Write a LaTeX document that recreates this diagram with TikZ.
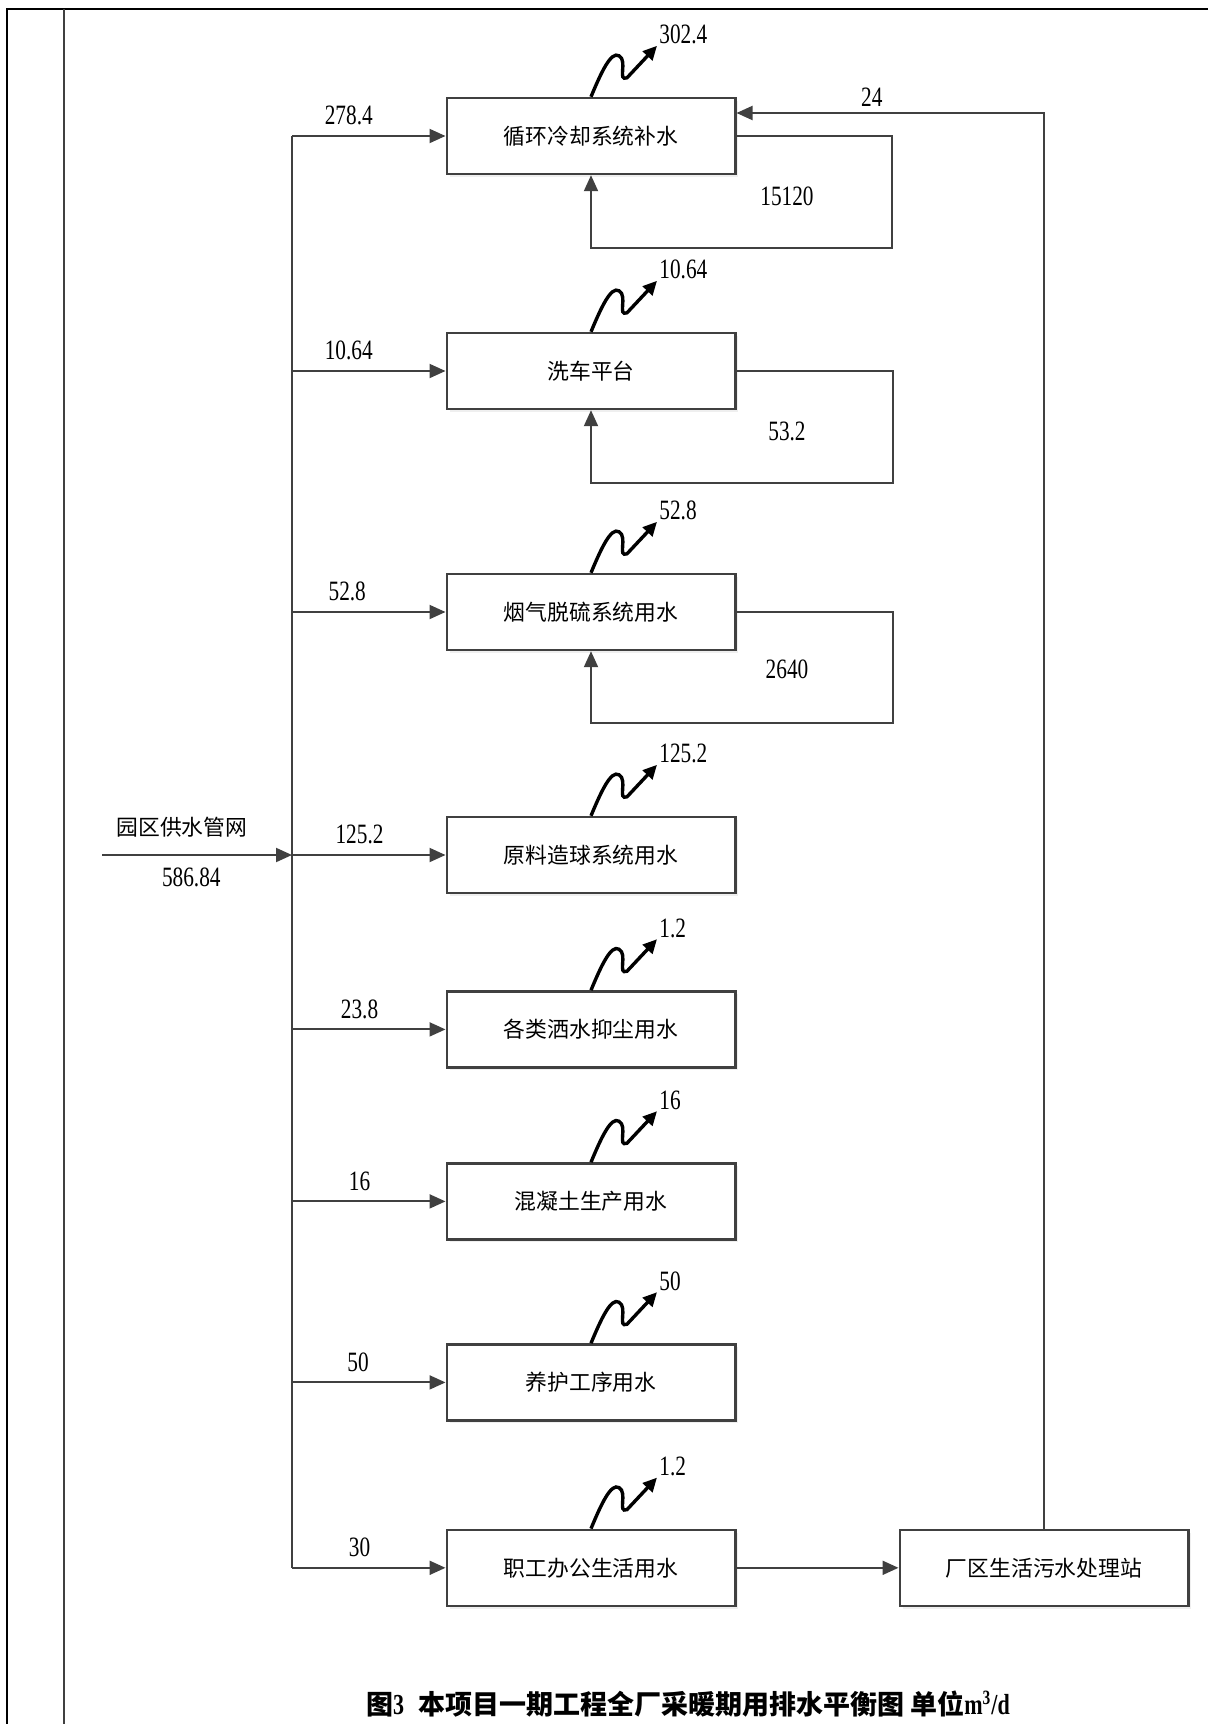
\documentclass[tikz,border=0pt]{standalone}
\usepackage{fontspec}
\setmainfont{Liberation Serif}[FakeStretch=0.76]
\newfontfamily\cjk{Noto Sans CJK SC}
\usetikzlibrary{arrows.meta}
\usetikzlibrary{positioning}
\usetikzlibrary{shadows}

\definecolor{pipe}{HTML}{404040}

\begin{document}
\begin{tikzpicture}[x=0.5pt,y=-0.5pt,->,>={Triangle[length=8pt,width=7pt]},
  every edge/.style={draw=pipe,line width=1pt},
  unit node/.style={rectangle,draw=pipe,line width=1.2pt,fill=white,
    minimum width=144.3pt,minimum height=38pt,
    drop shadow={shadow xshift=1.5pt,shadow yshift=-1.5pt,fill=black!12},
    font=\cjk\fontsize{10.9}{13}\selectfont},
  num/.style={font=\fontsize{14}{16}\selectfont,inner sep=1pt},
  flow/.style={draw=pipe,line width=1pt},
  loss/.pic={
    \draw[-{Triangle[length=7pt,width=6.5pt]},line width=1.7pt,black]
      (0,0) .. controls (10,-24) and (20,-46) .. (28,-41)
      .. controls (37,-36) and (26,-15) .. (36,-19) -- (66,-51);
    \node[num,anchor=west] at (66,-62) {#1};
  }]

  \useasboundingbox (0,0) rectangle (1208,1724);

  % page frame
  \draw[-,line width=1.35pt] (1208,9) -- (7,9) -- (7,1724);
  \draw[-,line width=0.6pt,pipe] (64,9) -- (64,1724);

  \node[unit node] (CW) at (591,136) {循环冷却系统补水};
  \node[unit node] (WP) [below = 78.3pt of CW] {洗车平台};
  \node[unit node] (FGD) [below = 81.3pt of WP] {烟气脱硫系统用水};
  \node[unit node] (PEL) [below = 82.3pt of FGD] {原料造球系统用水};
  \node[unit node] (DUST) [below = 48pt of PEL] {各类洒水抑尘用水};
  \node[unit node] (CON) [below = 46.8pt of DUST] {混凝土生产用水};
  \node[unit node] (CUR) [below = 51.3pt of CON] {养护工序用水};
  \node[unit node] (OF) [below = 53.5pt of CUR] {职工办公生活用水};
  \node[unit node] (ST) [right = 81pt of OF] {厂区生活污水处理站};

  \coordinate (bus) at (292,136);
  \coordinate (src) at (102,855);

  \draw[-,flow] (bus |- CW) -- (bus |- OF);

  \path
    (src) edge node [above=5pt,pos=.42,font=\cjk\fontsize{10.9}{13}\selectfont] {园区供水管网}
               node [num,below=5pt,pos=.47] {586.84} (bus |- src)
    (bus |- CW) edge node [num,above=4pt,pos=.37] {278.4} (CW)
    (bus |- WP) edge node [num,above=4pt,pos=.37] {10.64} (WP)
    (bus |- FGD) edge node [num,above=4pt,pos=.36] {52.8} (FGD)
    (bus |- PEL) edge node [num,above=4pt,pos=.44] {125.2} (PEL)
    (bus |- DUST) edge node [num,above=4pt,pos=.44] {23.8} (DUST)
    (bus |- CON) edge node [num,above=4pt,pos=.44] {16} (CON)
    (bus |- CUR) edge node [num,above=4pt,pos=.43] {50} (CUR)
    (bus |- OF) edge node [num,above=4pt,pos=.44] {30} (OF)
    (OF) edge (ST);

  % recycle loops
  \draw[flow] (CW.east) -- ++(155,0) -- ++(0,112) -| (CW.south);
  \draw[flow] (WP.east) -- ++(156,0) -- ++(0,112) -| (WP.south);
  \draw[flow] (FGD.east) -- ++(156,0) -- ++(0,111) -| (FGD.south);
  \node[num] (rCW) at ([shift={(196,60)}]CW.center) {15120};
  \node[num] (rWP) at ([shift={(196,60)}]WP.center) {53.2};
  \node[num] (rFGD) at ([shift={(196,57)}]FGD.center) {2640};

  \draw[flow] (ST.north) |- ([yshift=11.5pt]CW.east) node [num,above=2pt,pos=.78] {24};

  % losses
  \pic at (CW.north) {loss=302.4};
  \pic at (WP.north) {loss=10.64};
  \pic at (FGD.north) {loss=52.8};
  \pic at (PEL.north) {loss=125.2};
  \pic at (DUST.north) {loss=1.2};
  \pic at (CON.north) {loss=16};
  \pic at (CUR.north) {loss=50};
  \pic at (OF.north) {loss=1.2};

  \node (cap) at (688,1704) {{\cjk\bfseries\fontsize{13.5}{16}\selectfont 图}{\bfseries\fontsize{14.5}{16}\selectfont 3\hspace{7pt}}{\cjk\bfseries\fontsize{13.5}{16}\selectfont 本项目一期工程全厂采暖期用排水平衡图 单位}{\bfseries\fontsize{14.5}{16}\selectfont m\textsuperscript{3}/d}};

\end{tikzpicture}
\end{document}
